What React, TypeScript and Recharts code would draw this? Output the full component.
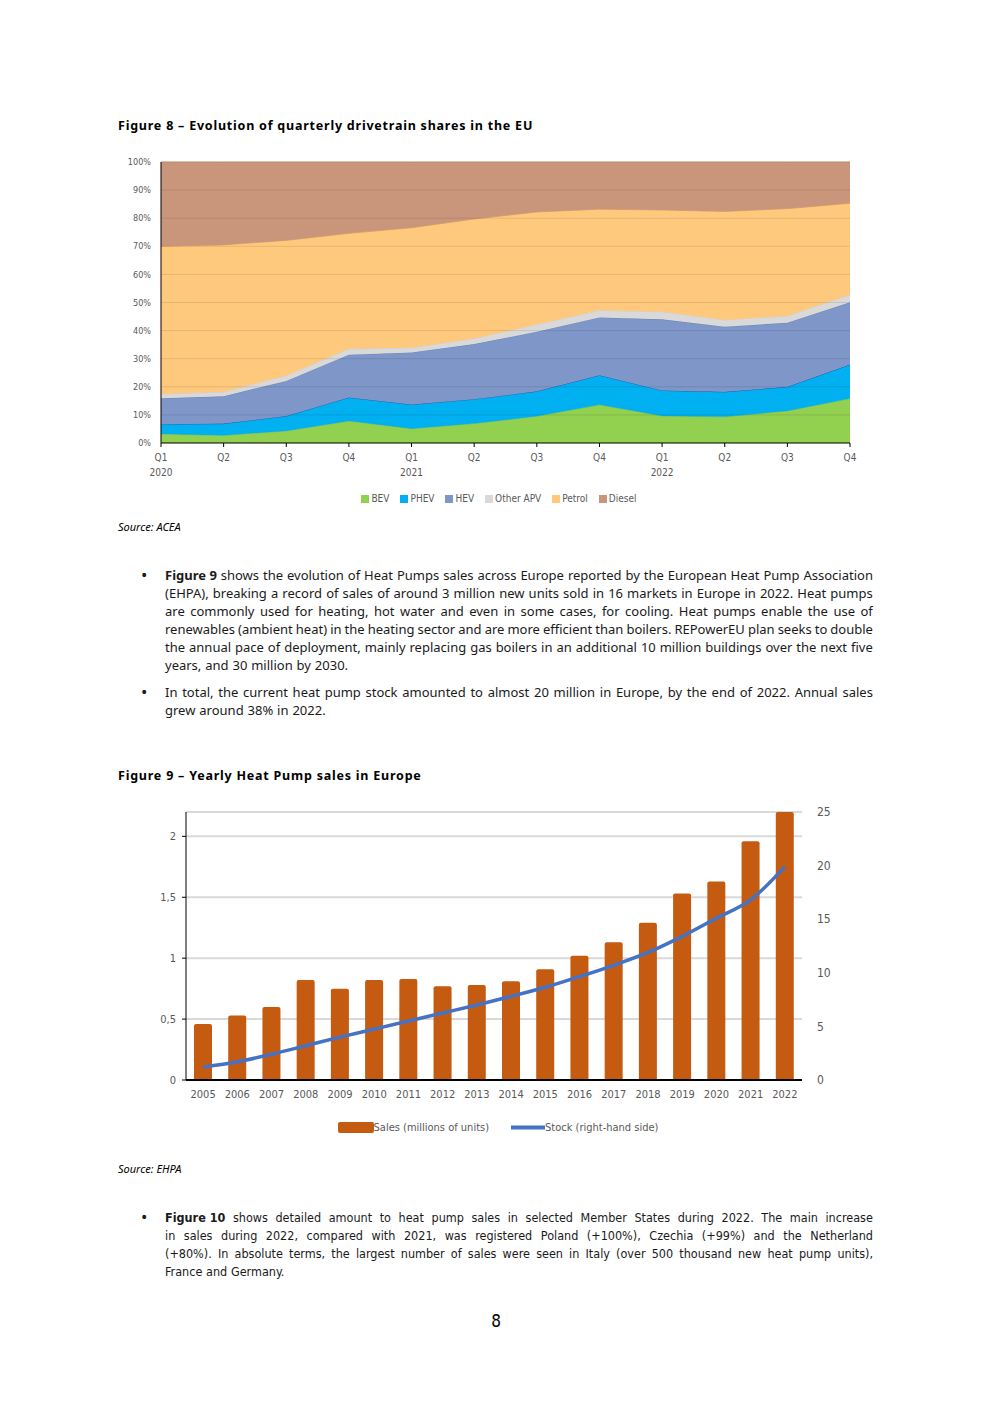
import React from 'react';
import {
  AreaChart,
  Area,
  XAxis,
  YAxis,
  Legend,
  ReferenceLine,
  ComposedChart,
  Bar,
  Line,
  CartesianGrid,
} from 'recharts';

// Figure 8 - quarterly drivetrain shares (%)
const quarters = ['Q1', 'Q2', 'Q3', 'Q4', 'Q1', 'Q2', 'Q3', 'Q4', 'Q1', 'Q2', 'Q3', 'Q4'];
const quarterYears = ['2020', '', '', '', '2021', '', '', '', '2022', '', '', ''];
const bev = [3.2, 2.7, 4.3, 7.8, 5.1, 6.9, 9.5, 13.6, 9.6, 9.3, 11.4, 15.8];
const phev = [3.5, 4.2, 5.3, 8.4, 8.6, 8.7, 8.9, 10.5, 9.1, 8.9, 8.6, 12.1];
const hev = [9.2, 9.7, 12.5, 15.2, 18.5, 19.6, 21.2, 20.6, 25.3, 23.2, 22.8, 22.2];
const otherApv = [1.5, 1.6, 1.9, 2.1, 1.7, 2.0, 2.6, 2.5, 2.7, 2.4, 2.4, 2.7];
const petrol = [52.6, 52.3, 48.1, 41.1, 42.7, 42.5, 40.0, 36.0, 36.2, 38.6, 38.2, 32.5];
const diesel = [30.0, 29.5, 27.9, 25.4, 23.4, 20.3, 17.8, 16.8, 17.1, 17.6, 16.6, 14.7];
const shareTicks = [0, 10, 20, 30, 40, 50, 60, 70, 80, 90, 100];

// Figure 9 - heat pump sales (millions) and stock (millions, right axis)
const years = ['2005', '2006', '2007', '2008', '2009', '2010', '2011', '2012', '2013', '2014', '2015', '2016', '2017', '2018', '2019', '2020', '2021', '2022'];
const sales = [0.46, 0.53, 0.6, 0.82, 0.75, 0.82, 0.83, 0.77, 0.78, 0.81, 0.91, 1.02, 1.13, 1.29, 1.53, 1.63, 1.96, 2.2];
const stock = [1.2, 1.7, 2.4, 3.2, 4.0, 4.75, 5.5, 6.25, 7.0, 7.8, 8.65, 9.65, 10.7, 11.9, 13.4, 15.1, 16.8, 19.9];
const salesTicks = [0, 0.5, 1, 1.5, 2];
const stockTicks = [0, 5, 10, 15, 20, 25];

const shareData = quarters.map((q, i) => ({
  q: `${q}-${i}`,
  BEV: bev[i],
  PHEV: phev[i],
  HEV: hev[i],
  'Other APV': otherApv[i],
  Petrol: petrol[i],
  Diesel: diesel[i],
}));

const pumpData = years.map((y, i) => ({ year: y, sales: sales[i], stock: stock[i] }));

const shareSeries = [
  { key: 'BEV', fill: '#92D050', stroke: '#84c044' },
  { key: 'PHEV', fill: '#00B0F0', stroke: '#1f5fb0' },
  { key: 'HEV', fill: '#7F96C9', stroke: '#6e84b6' },
  { key: 'Other APV', fill: '#D9D9D9', stroke: '#cfcfcf' },
  { key: 'Petrol', fill: '#FFC97D', stroke: '#e8a65c' },
  { key: 'Diesel', fill: '#C9967B', stroke: '#b98669' },
];

const CHART_FONT = "'Liberation Sans Narrow', 'DejaVu Sans Condensed', sans-serif";
const TEXT_FONT = "'Noto Sans', Lato, sans-serif";
const GREY = '#595959';

const QuarterTick = (props: any) => {
  const { x, y, payload } = props;
  const i = payload.index;
  return (
    <g>
      <text x={x} y={y + 12} textAnchor="middle" fontSize={10} fill={GREY} fontFamily={CHART_FONT}>
        {quarters[i]}
      </text>
      {quarterYears[i] && (
        <text x={x} y={y + 27} textAnchor="middle" fontSize={10} fill={GREY} fontFamily={CHART_FONT}>
          {quarterYears[i]}
        </text>
      )}
    </g>
  );
};

const ShareLegend = () => (
  <div style={{ display: 'flex', justifyContent: 'center', paddingLeft: 48, fontFamily: CHART_FONT, fontSize: 10, color: GREY }}>
    {shareSeries.map((s) => (
      <span key={s.key} style={{ display: 'flex', alignItems: 'center', marginRight: 11 }}>
        <span style={{ width: 8, height: 8, background: s.fill, marginRight: 2, display: 'inline-block' }} />
        <span>{s.key}</span>
      </span>
    ))}
  </div>
);

const PumpLegend = () => (
  <div style={{ display: 'flex', justifyContent: 'center', paddingLeft: 18, fontFamily: CHART_FONT, fontSize: 11, color: GREY }}>
    <span style={{ display: 'flex', alignItems: 'center', marginRight: 22 }}>
      <svg width={36} height={11}>
        <rect x={0} y={0} width={36} height={11} rx={2} fill="#C55A11" />
      </svg>
      <span>Sales (millions of units)</span>
    </span>
    <span style={{ display: 'flex', alignItems: 'center' }}>
      <svg width={34} height={11}>
        <line x1={0} y1={5.5} x2={34} y2={5.5} stroke="#4472C4" strokeWidth={4} />
      </svg>
      <span>Stock (right-hand side)</span>
    </span>
  </div>
);

type Word = { t: string; b?: boolean };

const JustLine = ({ words, justify }: { words: Word[]; justify: boolean }) => (
  <div
    style={{
      display: 'flex',
      justifyContent: justify ? 'space-between' : 'flex-start',
      gap: justify ? 0 : '0.3em',
      height: 18,
      alignItems: 'center',
      whiteSpace: 'nowrap',
    }}
  >
    {words.map((w, i) => (
      <span key={i} style={{ fontWeight: w.b ? 700 : 400 }}>
        {w.t}
      </span>
    ))}
  </div>
);

const toWords = (line: string): Word[] => {
  const out: Word[] = [];
  const re = /\*\*(.+?)\*\*|(\S+)/g;
  let m: RegExpExecArray | null;
  while ((m = re.exec(line))) {
    if (m[1]) out.push({ t: m[1], b: true });
    else out.push({ t: m[2] });
  }
  return out;
};

const Paragraph = ({ lines, top, font, size }: { lines: string[]; top: number; font: string; size: number }) => (
  <div style={{ position: 'absolute', left: 165, top, width: 708, fontFamily: font, fontSize: size, color: '#1a1a1a' }}>
    <span style={{ position: 'absolute', left: -24, top: 0, height: 18, lineHeight: '18px', fontFamily: TEXT_FONT, fontSize: 17 }}>•</span>
    {lines.map((l, i) => (
      <JustLine key={i} words={toWords(l)} justify={i < lines.length - 1} />
    ))}
  </div>
);

const para1 = [
  '**Figure 9**  shows the evolution of Heat Pumps sales across Europe reported by the European Heat Pump Association',
  '(EHPA), breaking a record of sales of around 3 million new units sold in 16 markets in Europe in 2022. Heat pumps',
  'are commonly used for heating, hot water and even in some cases, for cooling. Heat pumps enable the use of',
  'renewables (ambient heat) in the heating sector and are more efficient than boilers. REPowerEU plan seeks to double',
  'the annual pace of deployment, mainly replacing gas boilers in an additional 10 million buildings over the next five',
  'years, and 30 million by 2030.',
];
const para2 = [
  'In total, the current heat pump stock amounted to almost 20 million in Europe, by the end of 2022. Annual sales',
  'grew around 38% in 2022.',
];
const para3 = [
  '**Figure 10** shows detailed amount to heat pump sales in selected Member States during 2022. The main increase',
  'in sales during 2022, compared with 2021, was registered Poland (+100%), Czechia (+99%) and the Netherland',
  '(+80%). In absolute terms, the largest number of sales were seen in Italy (over 500 thousand new heat pump units),',
  'France and Germany.',
];

const titleStyle: React.CSSProperties = {
  position: 'absolute',
  left: 118,
  fontFamily: TEXT_FONT,
  fontWeight: 700,
  fontSize: 12.5,
  letterSpacing: 0.78,
  color: '#000',
};
const sourceStyle: React.CSSProperties = {
  position: 'absolute',
  left: 118,
  fontFamily: TEXT_FONT,
  fontStyle: 'italic',
  fontSize: 11,
  color: '#000',
};

export default function App() {
  return (
    <div style={{ position: 'absolute', left: 0, top: 0, width: 992, height: 1403, background: '#fff', overflow: 'hidden' }}>
      <div style={{ ...titleStyle, top: 117 }}>Figure 8 – Evolution of quarterly drivetrain shares in the EU</div>

      <div style={{ position: 'absolute', left: 100, top: 150 }}>
        <AreaChart width={770} height={362} data={shareData} margin={{ top: 12, right: 20, left: 11, bottom: 8 }}>
          <XAxis
            dataKey="q"
            tick={<QuarterTick />}
            interval={0}
            height={50}
            axisLine={{ stroke: '#000' }}
            tickLine={{ stroke: '#000' }}
            tickSize={4}
          />
          <YAxis
            width={50}
            domain={[0, 100]}
            ticks={shareTicks}
            tickFormatter={(v) => `${v}%`}
            tick={{ fontSize: 9, fill: GREY, fontFamily: CHART_FONT }}
            tickLine={false}
            axisLine={{ stroke: '#000' }}
            tickMargin={4}
          />
          {shareSeries.map((s) => (
            <Area
              key={s.key}
              type="linear"
              dataKey={s.key}
              stackId="1"
              fill={s.fill}
              fillOpacity={1}
              stroke={s.stroke}
              strokeWidth={1}
              isAnimationActive={false}
            />
          ))}
          {shareTicks.slice(1, -1).map((t) => (
            <ReferenceLine key={t} y={t} stroke="#000" strokeOpacity={0.1} />
          ))}
          <Legend verticalAlign="bottom" content={<ShareLegend />} />
        </AreaChart>
      </div>

      <div style={{ ...sourceStyle, top: 519 }}>Source: ACEA</div>

      <Paragraph lines={para1} top={566} font={TEXT_FONT} size={13} />
      <Paragraph lines={para2} top={683} font={TEXT_FONT} size={13} />

      <div style={{ ...titleStyle, top: 767 }}>Figure 9 – Yearly Heat Pump sales in Europe</div>

      <div style={{ position: 'absolute', left: 120, top: 795 }}>
        <ComposedChart width={742} height={357} data={pumpData} margin={{ top: 17, right: 10, left: 6, bottom: 18 }} barCategoryGap="48%">
          <CartesianGrid vertical={false} stroke="#d9d9d9" strokeWidth={2} yAxisId="left" />
          <XAxis
            dataKey="year"
            interval={0}
            height={41}
            axisLine={{ stroke: '#000', strokeWidth: 2 }}
            tickLine={false}
            tick={{ fontSize: 11, fill: GREY, fontFamily: CHART_FONT }}
            tickMargin={4}
          />
          <YAxis
            yAxisId="left"
            width={60}
            domain={[0, 2.2]}
            ticks={salesTicks}
            tickFormatter={(v) => String(v).replace('.', ',')}
            tick={{ fontSize: 11, fill: GREY, fontFamily: CHART_FONT }}
            axisLine={{ stroke: '#000' }}
            tickLine={{ stroke: '#000' }}
            tickSize={4}
            tickMargin={6}
          />
          <YAxis
            yAxisId="right"
            orientation="right"
            width={50}
            domain={[0, 25]}
            ticks={stockTicks}
            tick={{ fontSize: 12, fill: GREY, fontFamily: CHART_FONT }}
            axisLine={false}
            tickLine={false}
            tickMargin={9}
          />
          <Bar yAxisId="left" dataKey="sales" fill="#C55A11" barSize={18} radius={[2, 2, 0, 0]} isAnimationActive={false} />
          <Line
            yAxisId="right"
            type="monotone"
            dataKey="stock"
            stroke="#4472C4"
            strokeWidth={3.5}
            dot={false}
            isAnimationActive={false}
          />
          <Legend verticalAlign="bottom" content={<PumpLegend />} />
        </ComposedChart>
      </div>

      <div style={{ ...sourceStyle, top: 1161 }}>Source: EHPA</div>

      <Paragraph lines={para3} top={1208} font={CHART_FONT} size={12.5} />

      <div style={{ position: 'absolute', left: 0, width: 992, top: 1311, textAlign: 'center', fontFamily: CHART_FONT, fontSize: 17 }}>
        8
      </div>
    </div>
  );
}
